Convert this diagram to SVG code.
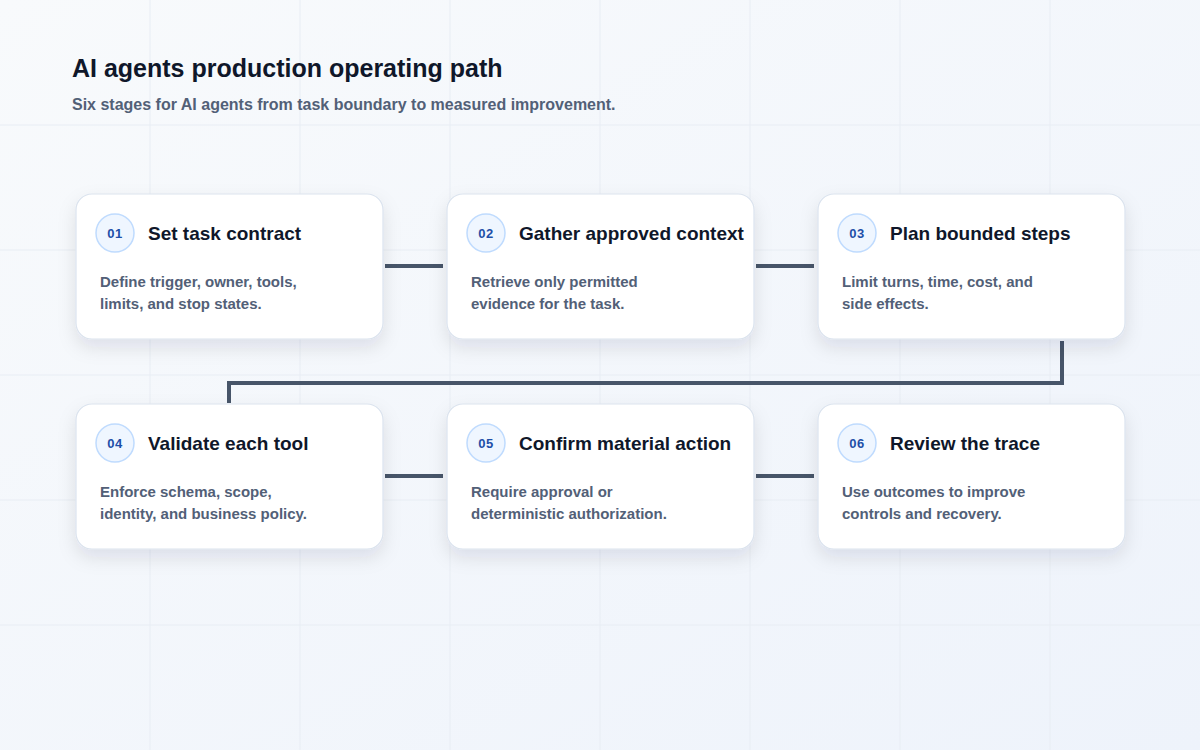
<svg xmlns="http://www.w3.org/2000/svg" width="1200" height="750" viewBox="0 0 1200 750">
<defs>
<linearGradient id="bg" x1="0" y1="0" x2="1" y2="1"><stop offset="0" stop-color="#f8fafc"/><stop offset="1" stop-color="#eef3fb"/></linearGradient>
<filter id="sh" x="-20%" y="-20%" width="140%" height="160%"><feDropShadow dx="0" dy="8" stdDeviation="9" flood-color="#0f172a" flood-opacity="0.10"/></filter>
<style>
.card{fill:#fff;stroke:#dbe3ee;stroke-width:1.2;filter:url(#sh)}
.num{fill:#eff6ff;stroke:#bfdbfe;stroke-width:1.5}
.nt{font-family:"Liberation Sans",Arial,sans-serif;font-size:13px;font-weight:700;fill:#1e4fa8;text-anchor:middle;letter-spacing:0.5px}
.tt{font-family:"Liberation Sans",Arial,sans-serif;font-size:19px;font-weight:700;fill:#0f172a}
.bt{font-family:"Liberation Sans",Arial,sans-serif;font-size:15px;font-weight:700;fill:#526077}
.ln{stroke:#475569;stroke-width:4;fill:none}
.grid{stroke:#e8edf4;stroke-width:1}
</style>
</defs>
<rect width="1200" height="750" fill="url(#bg)"/>
<g class="grid">
<path d="M150 0V750M300 0V750M450 0V750M600 0V750M750 0V750M900 0V750M1050 0V750M0 125H1200M0 250H1200M0 375H1200M0 500H1200M0 625H1200"/>
</g>
<text x="72" y="77" font-family="Liberation Sans,Arial,sans-serif" font-size="25" font-weight="700" fill="#0f172a">AI agents production operating path</text>
<text x="72" y="110" font-family="Liberation Sans,Arial,sans-serif" font-size="16" font-weight="700" fill="#526077">Six stages for AI agents from task boundary to measured improvement.</text>
<g id="connectors">
<path class="ln" d="M385 266H443"/>
<path class="ln" d="M756 266H814"/>
<path class="ln" d="M1062 341V383H229V403"/>
<path class="ln" d="M385 476H443"/>
<path class="ln" d="M756 476H814"/>
</g>
<g id="n1"><rect class="card" x="76" y="194" width="307" height="145" rx="16"/><circle class="num" cx="115" cy="233" r="19"/><text class="nt" x="115" y="238">01</text><text class="tt" x="148" y="240">Set task contract</text><text class="bt" x="100" y="287">Define trigger, owner, tools,</text><text class="bt" x="100" y="309">limits, and stop states.</text></g>
<g id="n2"><rect class="card" x="447" y="194" width="307" height="145" rx="16"/><circle class="num" cx="486" cy="233" r="19"/><text class="nt" x="486" y="238">02</text><text class="tt" x="519" y="240">Gather approved context</text><text class="bt" x="471" y="287">Retrieve only permitted</text><text class="bt" x="471" y="309">evidence for the task.</text></g>
<g id="n3"><rect class="card" x="818" y="194" width="307" height="145" rx="16"/><circle class="num" cx="857" cy="233" r="19"/><text class="nt" x="857" y="238">03</text><text class="tt" x="890" y="240">Plan bounded steps</text><text class="bt" x="842" y="287">Limit turns, time, cost, and</text><text class="bt" x="842" y="309">side effects.</text></g>
<g id="n4"><rect class="card" x="76" y="404" width="307" height="145" rx="16"/><circle class="num" cx="115" cy="443" r="19"/><text class="nt" x="115" y="448">04</text><text class="tt" x="148" y="450">Validate each tool</text><text class="bt" x="100" y="497">Enforce schema, scope,</text><text class="bt" x="100" y="519">identity, and business policy.</text></g>
<g id="n5"><rect class="card" x="447" y="404" width="307" height="145" rx="16"/><circle class="num" cx="486" cy="443" r="19"/><text class="nt" x="486" y="448">05</text><text class="tt" x="519" y="450">Confirm material action</text><text class="bt" x="471" y="497">Require approval or</text><text class="bt" x="471" y="519">deterministic authorization.</text></g>
<g id="n6"><rect class="card" x="818" y="404" width="307" height="145" rx="16"/><circle class="num" cx="857" cy="443" r="19"/><text class="nt" x="857" y="448">06</text><text class="tt" x="890" y="450">Review the trace</text><text class="bt" x="842" y="497">Use outcomes to improve</text><text class="bt" x="842" y="519">controls and recovery.</text></g>
</svg>
